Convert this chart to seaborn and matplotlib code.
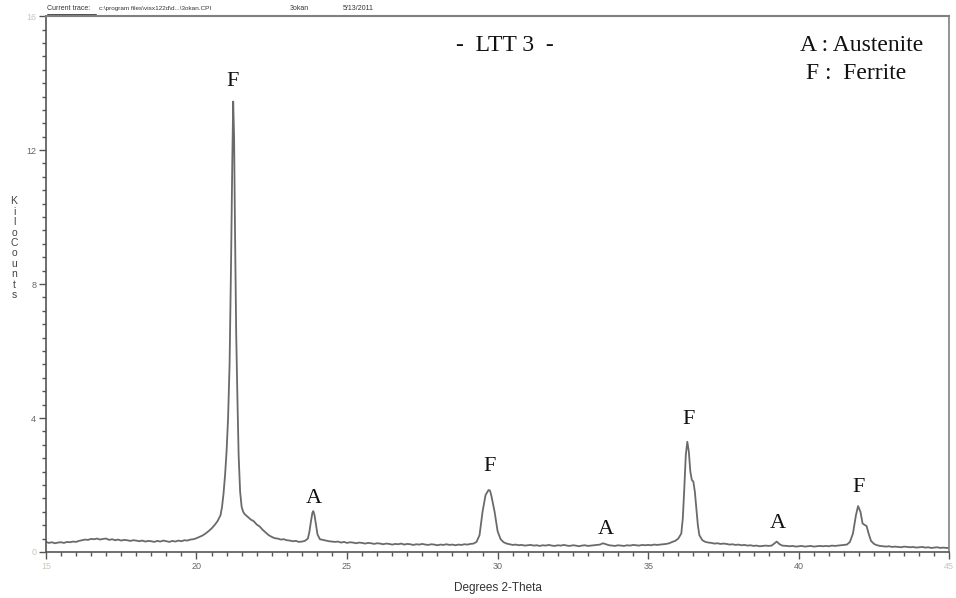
"""
XRD trace for LTT 3 (KiloCounts vs Degrees 2-Theta)
"""
import matplotlib
matplotlib.use("Agg")
import matplotlib.pyplot as plt
from matplotlib.ticker import MultipleLocator
import seaborn as sns
import pandas as pd

# trace, 2-theta in degrees, intensity in kilocounts
two_theta = [
    15.0, 15.1, 15.2, 15.3, 15.4, 15.5, 15.6, 15.7, 15.8, 15.9,
    16.0, 16.1, 16.2, 16.3, 16.4, 16.5, 16.6, 16.7, 16.8, 16.9,
    17.0, 17.1, 17.2, 17.3, 17.4, 17.5, 17.6, 17.7, 17.8, 17.9,
    18.0, 18.1, 18.2, 18.3, 18.4, 18.5, 18.6, 18.7, 18.8, 18.9,
    19.0, 19.1, 19.2, 19.3, 19.4, 19.5, 19.6, 19.7, 19.8, 19.9,
    20.0, 20.1, 20.2, 20.3, 20.4, 20.5, 20.6, 20.7, 20.8, 20.85,
    20.9, 20.95, 21.0, 21.05, 21.1, 21.15, 21.19, 21.22, 21.25, 21.28,
    21.32, 21.36, 21.4, 21.45, 21.5, 21.55, 21.6, 21.7, 21.8, 21.9,
    22.0, 22.1, 22.2, 22.3, 22.4, 22.5, 22.6, 22.7, 22.8, 22.9,
    23.0, 23.1, 23.2, 23.3, 23.4, 23.5, 23.6, 23.7, 23.75, 23.8,
    23.85, 23.88, 23.92, 23.97, 24.02, 24.1, 24.2, 24.3, 24.4, 24.5,
    24.6, 24.7, 24.8, 24.9, 25.0, 25.1, 25.2, 25.3, 25.4, 25.5,
    25.6, 25.7, 25.8, 25.9, 26.0, 26.1, 26.2, 26.3, 26.4, 26.5,
    26.6, 26.7, 26.8, 26.9, 27.0, 27.1, 27.2, 27.3, 27.4, 27.5,
    27.6, 27.7, 27.8, 27.9, 28.0, 28.1, 28.2, 28.3, 28.4, 28.5,
    28.6, 28.7, 28.8, 28.9, 29.0, 29.1, 29.2, 29.3, 29.4, 29.5,
    29.6, 29.7, 29.75, 29.8, 29.9, 30.0, 30.1, 30.2, 30.3, 30.4,
    30.5, 30.6, 30.7, 30.8, 30.9, 31.0, 31.1, 31.2, 31.3, 31.4,
    31.5, 31.6, 31.7, 31.8, 31.9, 32.0, 32.1, 32.2, 32.3, 32.4,
    32.5, 32.6, 32.7, 32.8, 32.9, 33.0, 33.1, 33.2, 33.3, 33.4,
    33.5, 33.6, 33.7, 33.8, 33.9, 34.0, 34.1, 34.2, 34.3, 34.4,
    34.5, 34.6, 34.7, 34.8, 34.9, 35.0, 35.1, 35.2, 35.3, 35.4,
    35.5, 35.6, 35.7, 35.8, 35.9, 36.0, 36.1, 36.15, 36.2, 36.25,
    36.3, 36.35, 36.4, 36.45, 36.5, 36.55, 36.6, 36.65, 36.7, 36.8,
    36.9, 37.0, 37.1, 37.2, 37.3, 37.4, 37.5, 37.6, 37.7, 37.8,
    37.9, 38.0, 38.1, 38.2, 38.3, 38.4, 38.5, 38.6, 38.7, 38.8,
    38.9, 39.0, 39.1, 39.2, 39.27, 39.35, 39.45, 39.6, 39.7, 39.8,
    39.9, 40.0, 40.1, 40.2, 40.3, 40.4, 40.5, 40.6, 40.7, 40.8,
    40.9, 41.0, 41.1, 41.2, 41.3, 41.4, 41.5, 41.6, 41.7, 41.8,
    41.9, 41.97, 42.05, 42.12, 42.2, 42.25, 42.32, 42.4, 42.5, 42.6,
    42.7, 42.8, 42.9, 43.0, 43.1, 43.2, 43.3, 43.4, 43.5, 43.6,
    43.7, 43.8, 43.9, 44.0, 44.1, 44.2, 44.3, 44.4, 44.5, 44.6,
    44.7, 44.8, 44.9, 45.0,
]
kilocounts = [
    0.30, 0.27, 0.29, 0.26, 0.28, 0.29, 0.27, 0.30, 0.29, 0.31,
    0.30, 0.33, 0.35, 0.37, 0.36, 0.39, 0.38, 0.40, 0.37, 0.39,
    0.40, 0.36, 0.38, 0.35, 0.37, 0.34, 0.36, 0.35, 0.33, 0.35,
    0.34, 0.32, 0.34, 0.31, 0.33, 0.32, 0.30, 0.33, 0.31, 0.34,
    0.32, 0.30, 0.33, 0.31, 0.34, 0.32, 0.35, 0.34, 0.37, 0.38,
    0.41, 0.45, 0.49, 0.55, 0.62, 0.70, 0.80, 0.92, 1.10, 1.35,
    1.75, 2.30, 3.00, 4.00, 5.60, 8.70, 11.70, 13.45, 12.40, 9.60,
    6.50, 4.60, 2.90, 1.80, 1.35, 1.20, 1.13, 1.05, 0.97, 0.92,
    0.82, 0.76, 0.66, 0.58, 0.50, 0.45, 0.41, 0.40, 0.37, 0.38,
    0.35, 0.34, 0.32, 0.33, 0.30, 0.31, 0.33, 0.40, 0.60, 0.90,
    1.17, 1.22, 1.10, 0.80, 0.52, 0.38, 0.36, 0.34, 0.32, 0.31,
    0.30, 0.31, 0.28, 0.30, 0.27, 0.29, 0.28, 0.26, 0.28, 0.27,
    0.25, 0.27, 0.26, 0.24, 0.26, 0.25, 0.23, 0.25, 0.24, 0.22,
    0.24, 0.23, 0.25, 0.22, 0.24, 0.23, 0.21, 0.23, 0.22, 0.24,
    0.22, 0.21, 0.23, 0.22, 0.20, 0.22, 0.21, 0.23, 0.21, 0.22,
    0.20, 0.22, 0.21, 0.23, 0.22, 0.24, 0.25, 0.30, 0.50, 1.20,
    1.70, 1.85, 1.83, 1.65, 1.20, 0.62, 0.38, 0.29, 0.25, 0.23,
    0.21, 0.22, 0.20, 0.21, 0.19, 0.20, 0.21, 0.19, 0.20, 0.18,
    0.20, 0.19, 0.21, 0.19, 0.18, 0.20, 0.19, 0.21, 0.19, 0.18,
    0.20, 0.19, 0.17, 0.19, 0.20, 0.18, 0.19, 0.20, 0.21, 0.22,
    0.26, 0.23, 0.20, 0.19, 0.18, 0.20, 0.19, 0.18, 0.20, 0.19,
    0.21, 0.20, 0.19, 0.21, 0.20, 0.21, 0.20, 0.22, 0.21, 0.22,
    0.23, 0.24, 0.26, 0.30, 0.33, 0.40, 0.55, 1.00, 1.90, 2.90,
    3.29, 3.00, 2.40, 2.15, 2.10, 1.80, 1.30, 0.80, 0.50, 0.35,
    0.30, 0.28, 0.27, 0.25, 0.26, 0.24, 0.25, 0.24, 0.22, 0.23,
    0.21, 0.22, 0.20, 0.21, 0.19, 0.20, 0.18, 0.19, 0.17, 0.18,
    0.19, 0.18, 0.19, 0.26, 0.31, 0.24, 0.19, 0.18, 0.17, 0.18,
    0.16, 0.17, 0.18, 0.16, 0.17, 0.18, 0.16, 0.17, 0.18, 0.17,
    0.18, 0.17, 0.19, 0.18, 0.19, 0.20, 0.21, 0.22, 0.30, 0.55,
    1.10, 1.37, 1.20, 0.85, 0.80, 0.78, 0.55, 0.33, 0.24, 0.20,
    0.18, 0.17, 0.16, 0.17, 0.15, 0.16, 0.15, 0.14, 0.16, 0.15,
    0.14, 0.15, 0.13, 0.14, 0.15, 0.13, 0.14, 0.12, 0.13, 0.14,
    0.12, 0.13, 0.12, 0.12,
]

# phase labels over the peaks
peak_labels = ["F", "A", "F", "A", "F", "A", "F"]
label_x = [21.2, 23.9, 29.72, 33.6, 36.33, 39.3, 42.0]
label_y = [14.05, 1.6, 2.55, 0.68, 3.95, 0.84, 1.92]

df = pd.DataFrame({"theta": two_theta, "counts": kilocounts})

sns.set_theme(style="white")
plt.rcParams['font.family'] = ['Liberation Sans', 'DejaVu Sans']

fig = plt.figure(figsize=(9.56, 5.98), dpi=100)
ax = fig.add_axes([0.048, 0.077, 0.945, 0.896])

sns.lineplot(data=df, x="theta", y="counts", ax=ax, color="#6a6a6a",
             linewidth=1.3, sort=False)

ax.set_xlim(15, 45)
ax.set_ylim(0, 16)
ax.xaxis.set_major_locator(MultipleLocator(5))
ax.xaxis.set_minor_locator(MultipleLocator(0.5))
ax.yaxis.set_major_locator(MultipleLocator(4))
ax.yaxis.set_minor_locator(MultipleLocator(0.4))
ax.tick_params(which="major", length=5, width=1, color="#555555",
               labelsize=6.5, labelcolor="#666666", pad=2)
ax.tick_params(which="minor", length=3, width=1, color="#555555")
ax.tick_params(axis="both", which="both", bottom=True, left=True,
               top=False, right=False, direction="out")

# end labels are drawn paler in the original
fig.canvas.draw()
for lbl in ax.get_xticklabels():
    if lbl.get_text() in ("15", "45"):
        lbl.set_color("#c8c8b8")
for lbl in ax.get_yticklabels():
    if lbl.get_text() in ("0", "16"):
        lbl.set_color("#c8c8b8")

for side in ["left", "bottom"]:
    ax.spines[side].set_color("#555555")
    ax.spines[side].set_linewidth(1.2)
ax.spines["top"].set_color("#808080")
ax.spines["top"].set_linewidth(1.5)
ax.spines["right"].set_color("#808080")
ax.spines["right"].set_linewidth(1.2)

ax.set_xlabel("Degrees 2-Theta", fontsize=8.5, color="#333333", labelpad=8)
ax.set_ylabel("")
fig.text(0.0146, 0.585, "\n".join("KiloCounts"), fontsize=7.5,
         color="#444444", ha="center", va="center", linespacing=1.05)

# header line
fig.text(0.049, 0.985, "Current trace:", fontsize=5, color="#333333",
         va="center")
fig.text(0.1035, 0.985, r"c:\program files\visx122d\d...\3okan.CPI",
         fontsize=4.6, color="#333333", va="center")
fig.text(0.303, 0.985, "3okan", fontsize=5, color="#333333", va="center")
fig.text(0.359, 0.985, "5/13/2011", fontsize=5, color="#333333",
         va="center")
fig.add_artist(plt.Line2D([0.049, 0.100], [0.977, 0.977], lw=0.6,
                          color="#333333"))

serif = ["Liberation Serif", "DejaVu Serif"]
for txt, xv, yv in zip(peak_labels, label_x, label_y):
    ax.text(xv, yv, txt, family=serif, fontsize=16, color="#111111",
            ha="center", va="center")

ax.text(30.25, 15.13, "-  LTT 3  -", family=serif, fontsize=17,
        color="#111111", ha="center", va="center")
ax.text(40.05, 15.13, "A : Austenite", family=serif, fontsize=17,
        color="#111111", ha="left", va="center")
ax.text(40.25, 14.3, "F :  Ferrite", family=serif, fontsize=17,
        color="#111111", ha="left", va="center")

fig.savefig("out.png", dpi=100)
plt.close(fig)
